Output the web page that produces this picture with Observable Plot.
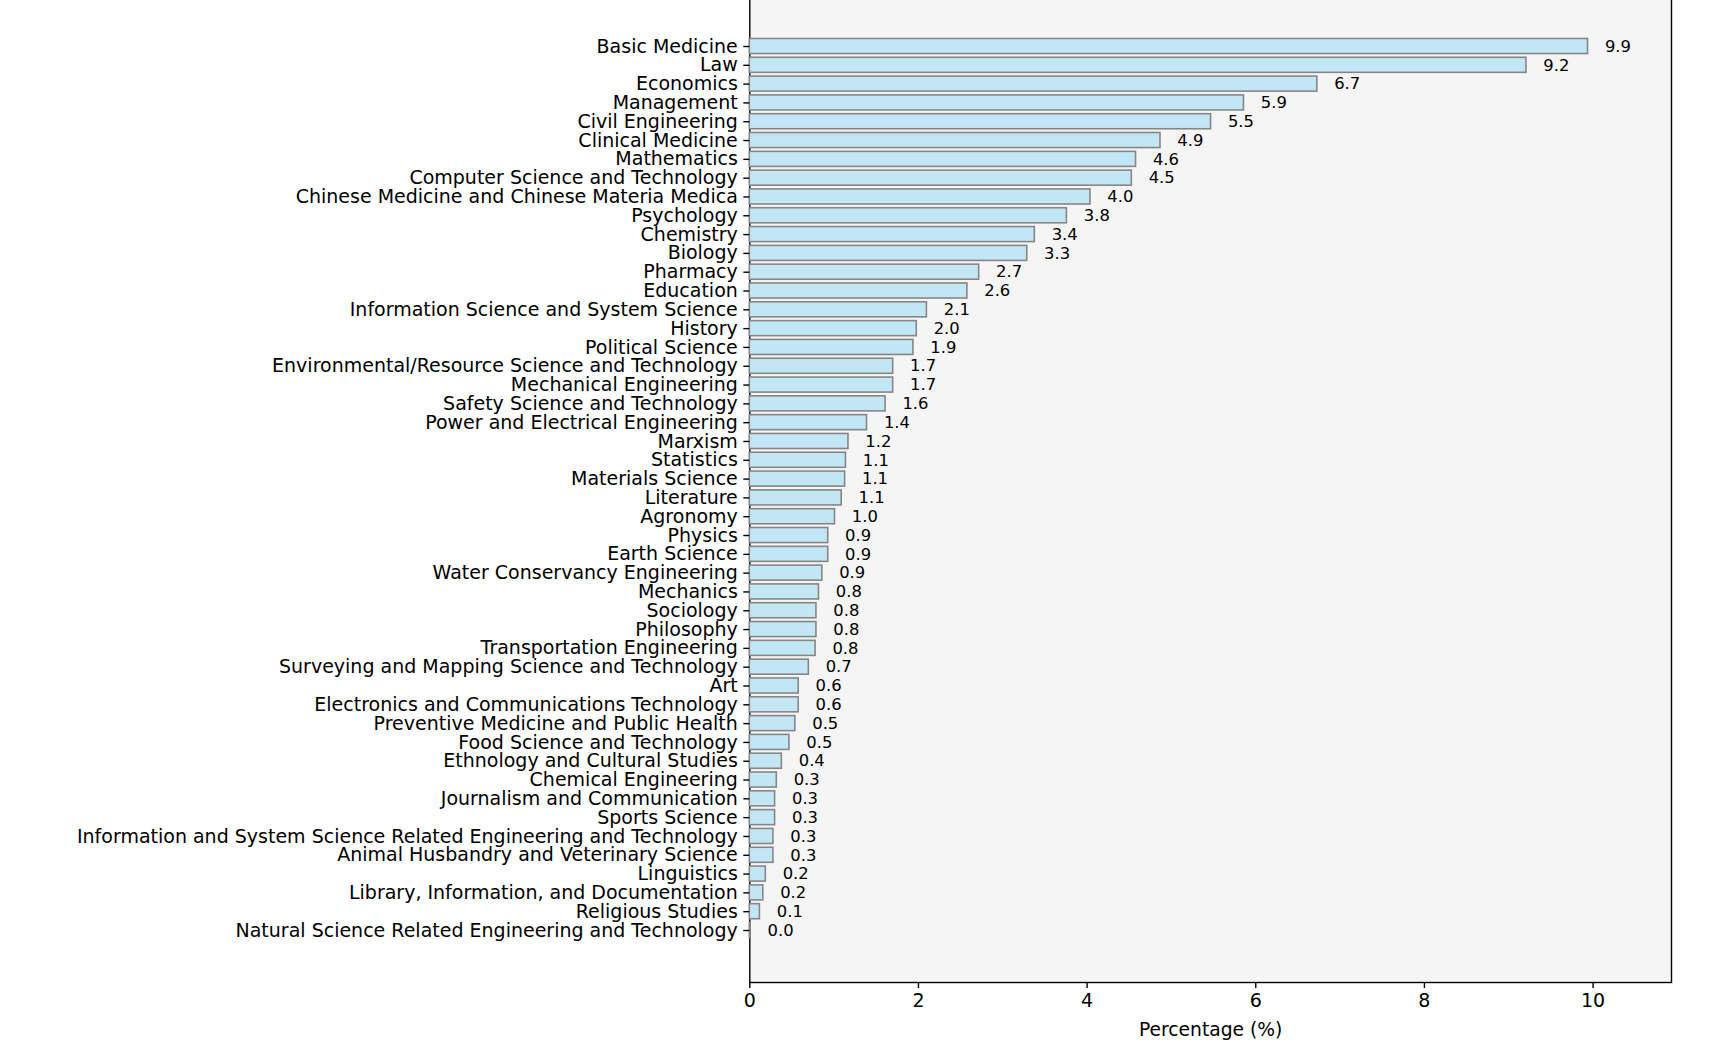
<!DOCTYPE html>
<html>
<head>
<meta charset="utf-8">
<script src="https://cdn.jsdelivr.net/npm/d3@7"></script>
<script src="https://cdn.jsdelivr.net/npm/@observablehq/plot@0.6"></script>
<style>
  html, body { margin: 0; padding: 0; background: #ffffff; }
  #chart { width: 1721px; height: 1059px; overflow: hidden; }
</style>
</head>
<body>
<div id="chart"></div>
<script>
const categories = [
  "Basic Medicine", "Law", "Economics", "Management", "Civil Engineering",
  "Clinical Medicine", "Mathematics", "Computer Science and Technology",
  "Chinese Medicine and Chinese Materia Medica", "Psychology", "Chemistry",
  "Biology", "Pharmacy", "Education", "Information Science and System Science",
  "History", "Political Science", "Environmental/Resource Science and Technology",
  "Mechanical Engineering", "Safety Science and Technology",
  "Power and Electrical Engineering", "Marxism", "Statistics", "Materials Science",
  "Literature", "Agronomy", "Physics", "Earth Science", "Water Conservancy Engineering",
  "Mechanics", "Sociology", "Philosophy", "Transportation Engineering",
  "Surveying and Mapping Science and Technology", "Art",
  "Electronics and Communications Technology", "Preventive Medicine and Public Health",
  "Food Science and Technology", "Ethnology and Cultural Studies", "Chemical Engineering",
  "Journalism and Communication", "Sports Science",
  "Information and System Science Related Engineering and Technology",
  "Animal Husbandry and Veterinary Science", "Linguistics",
  "Library, Information, and Documentation", "Religious Studies",
  "Natural Science Related Engineering and Technology"
];
const percentages = [
  9.94, 9.21, 6.73, 5.86, 5.47,
  4.87, 4.58, 4.53,
  4.04, 3.76, 3.38,
  3.29, 2.72, 2.58, 2.10,
  1.98, 1.94, 1.70,
  1.70, 1.61,
  1.39, 1.17, 1.14, 1.13,
  1.09, 1.01, 0.93, 0.93, 0.86,
  0.82, 0.79, 0.79, 0.78,
  0.70, 0.58,
  0.58, 0.54,
  0.47, 0.38, 0.32,
  0.30, 0.30,
  0.28,
  0.28, 0.19,
  0.16, 0.12,
  0.01
];
const xTicks = [0, 2, 4, 6, 8, 10];
const xMax = 10.93;
const xLabel = "Percentage (%)";

const data = categories.map((c, i) => ({category: c, value: percentages[i]}));

const chart = Plot.plot({
  width: 1721,
  height: 1059,
  marginLeft: 749.3,
  marginRight: 50,
  marginTop: -7.6,
  marginBottom: 77,
  style: {fontFamily: "'DejaVu Sans', sans-serif", background: "#ffffff", color: "#000", overflow: "hidden"},
  x: {domain: [0, xMax]},
  y: {domain: categories, range: [34.71, 941.29], padding: 0.2},
  marks: [
    Plot.frame({fill: "#f5f5f5", stroke: "#000", strokeWidth: 1.4}),
    Plot.barX(data, {
      y: "category", x1: 0, x2: "value",
      fill: "#c3e6f5", stroke: "#868686", strokeWidth: 1.6
    }),
    Plot.text(data, {
      y: "category", x: d => d.value + 0.2,
      text: d => d.value.toFixed(1),
      textAnchor: "start", fontSize: 16.4, fill: "#000"
    }),
    Plot.axisX({
      ticks: xTicks, tickFormat: d => String(d), tickSize: 6, tickPadding: 5,
      fontSize: 19, label: null, strokeWidth: 1.4
    }),
    Plot.axisY({
      tickSize: 6, tickPadding: 6, fontSize: 19, label: null, strokeWidth: 1.4
    }),
    Plot.text([xLabel], {
      frameAnchor: "bottom", dy: 48, text: d => d, fontSize: 18.7,
      lineAnchor: "middle", fill: "#000"
    })
  ]
});
document.getElementById("chart").appendChild(chart);
</script>
</body>
</html>
